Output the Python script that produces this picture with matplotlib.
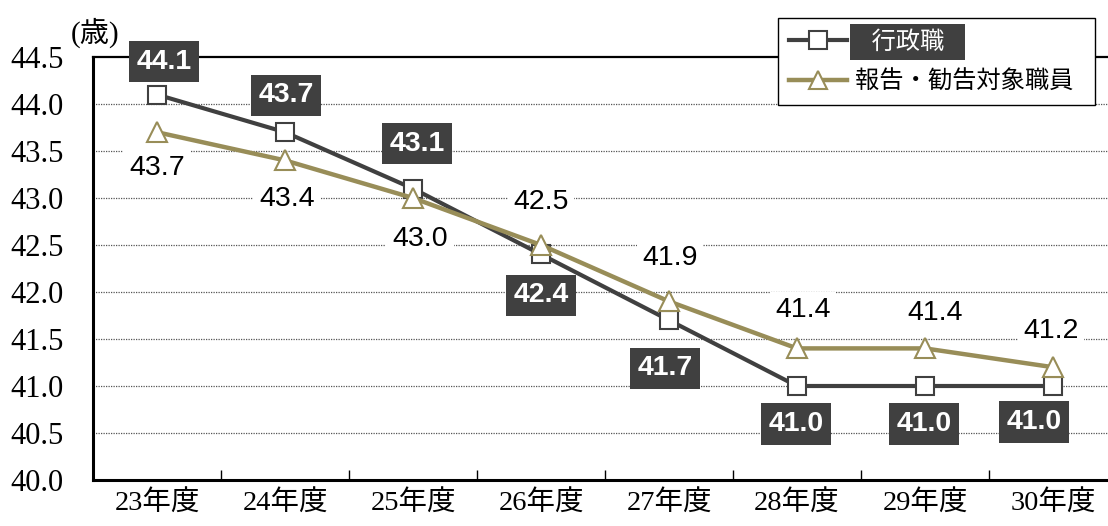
import matplotlib
matplotlib.use("Agg")
import matplotlib.pyplot as plt
from matplotlib.ticker import FixedLocator

# data
years = ['23年度', '24年度', '25年度', '26年度', '27年度', '28年度', '29年度', '30年度']
gyosei = [44.1, 43.7, 43.1, 42.4, 41.7, 41.0, 41.0, 41.0]
houkoku = [43.7, 43.4, 43.0, 42.5, 41.9, 41.4, 41.4, 41.2]
series_names = ['行政職', '報告・勧告対象職員']
y_ticks = [40.0, 40.5, 41.0, 41.5, 42.0, 42.5, 43.0, 43.5, 44.0, 44.5]

# label offsets in pixels (dx, dy)
gyosei_off = [(7, 33), (1, 37), (4, 45), (0, -41), (-4, -48), (-1, -38), (-1, -38), (-19, -36)]
houkoku_off = [(0, -36), (2, -39), (7, -41), (0, 43), (1, 43), (6, 38), (10, 35), (-2, 36)]

dark = '#404040'
olive = '#988D58'
serif_cjk = ['Liberation Serif', 'Noto Sans CJK JP']

fig = plt.figure(figsize=(11.08, 5.26), dpi=100)
W, H = 1108, 526
ax = fig.add_axes([93 / W, (H - 480) / H, 1024 / W, 423 / H])

x = list(range(len(years)))
ax.plot(x, gyosei, color=dark, lw=3, marker='s', ms=13, mfc='white', mec=dark, mew=1.5,
        zorder=3, label=series_names[0])
ax.plot(x, houkoku, color=olive, lw=3.2, marker='^', ms=14, mfc='white', mec=olive, mew=1.5,
        zorder=4, label=series_names[1])

ax.set_xlim(-0.5, 7.5)
ax.set_ylim(40.0, 44.5)
ax.set_yticks(y_ticks)
ax.set_yticklabels([f'{v:.1f}' for v in y_ticks], family=serif_cjk, fontsize=22)
ax.set_xticks(x)
ax.set_xticklabels(years, family=serif_cjk, fontsize=20.5)
ax.xaxis.set_minor_locator(FixedLocator([i + 0.5 for i in range(len(years) - 1)]))
ax.tick_params(axis='x', which='major', length=0, pad=8)
ax.tick_params(axis='x', which='minor', direction='in', length=7, width=1, color='black')
ax.tick_params(axis='y', length=0, pad=21)

for v in y_ticks[1:-1]:
    ax.axhline(v, color='#555555', lw=0.9, ls=(0, (1, 1)), zorder=1)

for side in ['left', 'bottom']:
    ax.spines[side].set_linewidth(2.2)
ax.spines['top'].set_linewidth(1.6)
ax.spines['right'].set_visible(False)

for xi, v, (dx, dy) in zip(x, gyosei, gyosei_off):
    ax.annotate(f'{v:.1f}', (xi, v), xytext=(dx, dy), textcoords='offset pixels',
                ha='center', va='center', fontsize=20.5, fontweight='bold', color='white',
                family='Liberation Sans', zorder=6,
                bbox=dict(boxstyle='square,pad=0.27', fc=dark, ec='none'))

for xi, v, (dx, dy) in zip(x, houkoku, houkoku_off):
    ax.annotate(f'{v:.1f}', (xi, v), xytext=(dx, dy), textcoords='offset pixels',
                ha='center', va='center', fontsize=20.5, color='black',
                family='Liberation Sans', zorder=6,
                bbox=dict(boxstyle='square,pad=0.2', fc='white', ec='none'))

fig.text(71 / W, 1 - 33 / H, '(歳)', family=serif_cjk, fontsize=21, va='center', ha='left')

leg = ax.legend(loc='upper right', bbox_to_anchor=(1095 / W, 1 - 18 / H),
                bbox_transform=fig.transFigure, prop={'family': 'Noto Sans CJK JP', 'size': 17.5},
                frameon=True, fancybox=False, framealpha=1, edgecolor='black',
                handlelength=2.4, handletextpad=0.3, labelspacing=0.55, borderpad=0.45,
                borderaxespad=0, markerscale=0.95)
leg.get_frame().set_linewidth(1.0)
leg.set_zorder(10)
t0, t1 = leg.get_texts()
t0.set_text('   行政職   ')
t0.set_color('white')
t0.set_bbox(dict(boxstyle='square,pad=0.2', fc=dark, ec='none'))
t1.set_text('報告・勧告対象職員  ')

fig.savefig('out.png', dpi=100)
